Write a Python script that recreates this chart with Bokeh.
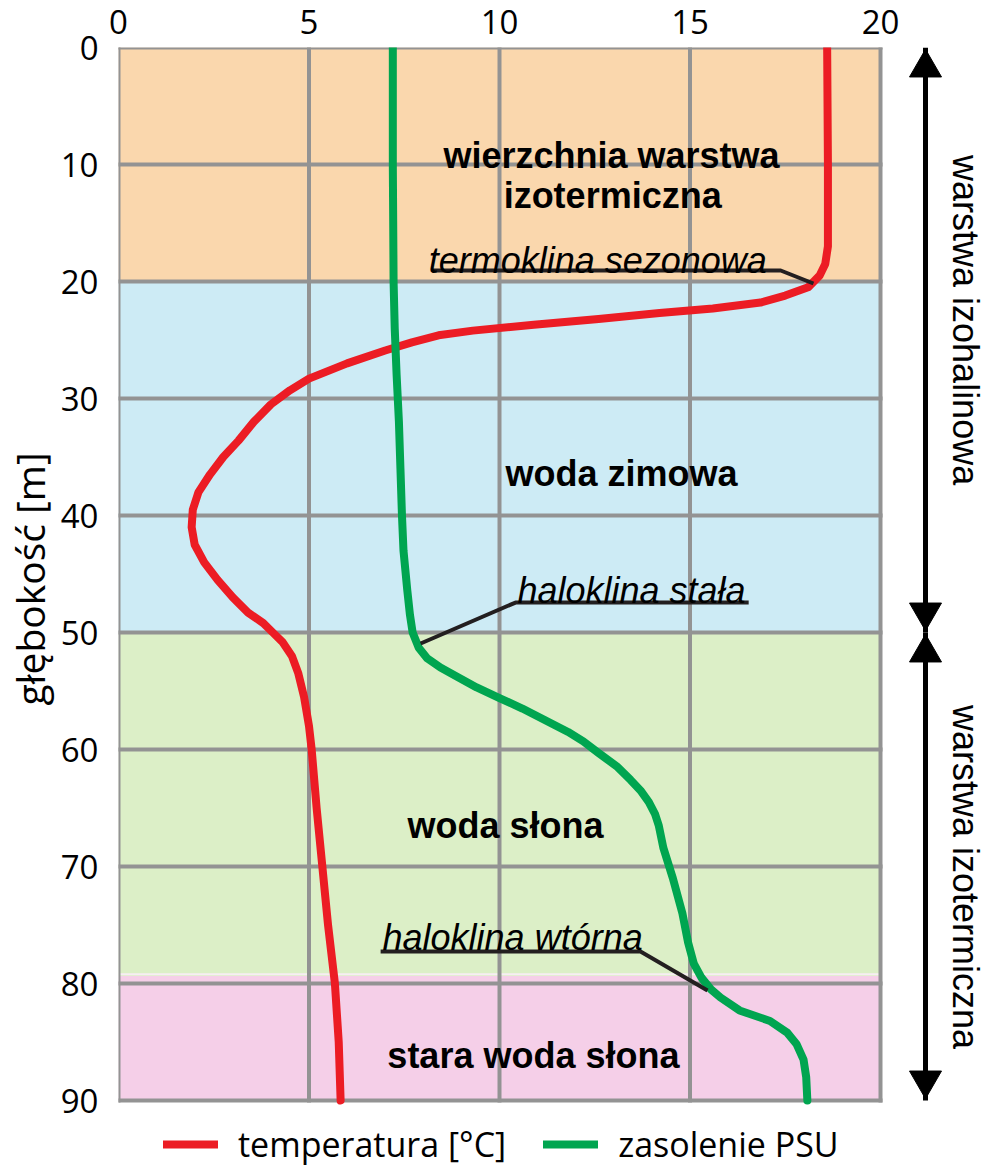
from bokeh.plotting import figure
from bokeh.models import Range1d, FixedTicker, Label, Legend, LegendItem, Title
from bokeh.core.properties import value
from bokeh.embed import file_html
from bokeh.resources import INLINE
import math

# ---------------- data ----------------
temp_depth = [0, 10, 17, 18.5, 19.5, 20.5, 21.2, 21.8, 22.3, 22.7, 23.2, 23.7, 24.2, 24.6, 25.2, 25.9,
              27.0, 28.3, 29.3, 30.5, 32.0, 33.6, 35.0, 36.5, 38.0, 39.5, 41.0, 42.5, 44.0, 45.5,
              47.0, 48.3, 49.2, 50.0, 50.8, 52.0, 53.5, 55.5, 58.0, 60, 65, 70, 75, 80, 85, 90]
temp_val = [18.6, 18.62, 18.62, 18.55, 18.4, 18.1, 17.5, 16.85, 15.6, 14.2, 12.6, 10.9, 9.3, 8.4, 7.7, 7.0,
            6.0, 5.0, 4.5, 4.0, 3.55, 3.15, 2.75, 2.4, 2.1, 1.95, 1.92, 2.0, 2.25, 2.6,
            3.0, 3.4, 3.8, 4.05, 4.3, 4.55, 4.72, 4.87, 5.0, 5.07, 5.2, 5.35, 5.5, 5.68, 5.78, 5.83]

sal_depth = [0, 10, 20, 24, 28, 32, 36, 40, 43, 46.4, 48.5, 50, 51.3, 52.2, 53, 53.8, 54.7, 55.6,
             56.5, 57.5, 58.5, 59.3, 60.3, 61.5, 62.6, 63.5, 64.5, 65.5, 66.5, 68.4, 71, 74, 76.5, 78.3,
             79.5, 80.5, 81.2, 82.3, 83.2, 84.2, 85.2, 86.5, 88, 90]
sal_val = [7.2, 7.2, 7.22, 7.25, 7.3, 7.36, 7.4, 7.44, 7.48, 7.58, 7.65, 7.72, 7.88, 8.1, 8.45, 8.9, 9.4, 10.0,
           10.6, 11.2, 11.8, 12.2, 12.6, 13.1, 13.44, 13.7, 13.92, 14.08, 14.18, 14.3, 14.55, 14.8, 14.95, 15.1,
           15.3, 15.55, 15.8, 16.3, 17.1, 17.55, 17.8, 17.98, 18.05, 18.08]

band_top = [0, 20, 50, 79.35]
band_bottom = [20, 50, 79.35, 90]
band_colors = ["#fad7ad", "#cdebf5", "#dcefc7", "#f5cfe8"]

x_ticks = [0, 5, 10, 15, 20]
y_ticks = [0, 10, 20, 30, 40, 50, 60, 70, 80, 90]

# layers marked on the right (depth ranges)
layer_names = ["warstwa izohalinowa", "warstwa izotermiczna"]
layer_top = [0, 50]
layer_bottom = [50, 90]
layer_label_depth = [23.3, 70.9]

# leader lines under the italic annotations (x, depth)
lead1_x = [8.24, 17.38, 18.24]
lead1_y = [19.06, 19.06, 20.17]
lead2_x = [16.54, 10.42, 7.93]
lead2_y = [47.44, 47.44, 50.94]
lead3_x = [6.88, 13.70, 15.46]
lead3_y = [77.26, 77.26, 80.6]

RED = "#ec1c24"
GREEN = "#00a550"
GRID = "#939393"

X0, X1 = 0, 20
Y0, Y1 = 0, 90
FRAME_L, FRAME_T, DATA_B = 118, 47, 1100
PX_PER_X = 762 / 20.0                   # pixel width of one x unit
PX_PER_Y = (DATA_B - FRAME_T) / 90.0    # pixel height of one depth unit
XR = (987 - FRAME_L) / PX_PER_X         # right margin kept in data space
YR = 90 + (1167 - DATA_B) / PX_PER_Y    # bottom margin (legend) kept in data space

p = figure(width=987, height=1167, x_range=Range1d(0, XR), y_range=Range1d(YR, 0),
           output_backend="svg", toolbar_location=None, x_axis_location="above",
           min_border_left=FRAME_L, min_border_right=0, min_border_top=FRAME_T,
           min_border_bottom=0)

p.background_fill_color = "white"
p.border_fill_color = "white"
p.outline_line_color = None
p.xgrid.visible = False
p.ygrid.visible = False

# bands
p.quad(left=X0, right=X1, top=band_top, bottom=band_bottom, fill_color=band_colors,
       line_color=None, level="image")
p.segment(x0=[X0], x1=[X1], y0=[79.2], y1=[79.2], line_color="#f7eef3", line_width=2, level="image")

# grid (drawn at the tick positions, bounded to the data area)
p.segment(x0=x_ticks, x1=x_ticks, y0=[Y0] * len(x_ticks), y1=[Y1] * len(x_ticks),
          line_color=GRID, line_width=4, line_cap="square", level="underlay")
p.segment(x0=[X0] * len(y_ticks), x1=[X1] * len(y_ticks), y0=y_ticks, y1=y_ticks,
          line_color=GRID, line_width=4, line_cap="square", level="underlay")

# axes
for ax in (p.xaxis, p.yaxis):
    ax.axis_line_color = None
    ax.major_tick_line_color = None
    ax.minor_tick_line_color = None
    ax.major_tick_out = 0
    ax.major_tick_in = 0
    ax.minor_tick_out = 0
    ax.minor_tick_in = 0
    ax.major_label_text_font = "Open Sans"
    ax.major_label_text_font_size = "33px"
    ax.major_label_text_color = "black"
p.xaxis.ticker = FixedTicker(ticks=x_ticks)
p.yaxis.ticker = FixedTicker(ticks=y_ticks)
p.xaxis.major_label_standoff = 14
p.yaxis.major_label_standoff = 20

# y-axis title placed along the 0-90 m data area (frame extends below it for the legend)
ytitle = Title(text="głębokość [m]", align="left", offset=1167 - 705, vertical_align="top",
               text_font="Open Sans", text_font_size="39px", text_font_style="normal",
               text_color="black", standoff=0)
p.add_layout(ytitle, "left")

# curves
r_t = p.line(temp_val, temp_depth, line_color=RED, line_width=8, line_join="round", line_cap="round")
r_s = p.line(sal_val, sal_depth, line_color=GREEN, line_width=8, line_join="round", line_cap="round")

# leader lines
for lx, ly in ((lead1_x, lead1_y), (lead2_x, lead2_y), (lead3_x, lead3_y)):
    p.line(lx, ly, line_color="#231f20", line_width=4)

def bold(text, x, y):
    p.add_layout(Label(x=x, y=y, text=text, text_font="Liberation Sans", text_font_style="bold",
                       text_font_size="36px", text_align="center", text_baseline="alphabetic",
                       text_color="black"))

def ital(text, x, y):
    p.add_layout(Label(x=x, y=y, text=text, text_font="Liberation Sans", text_font_style="italic",
                       text_font_size="36px", text_align="left", text_baseline="alphabetic",
                       text_color="black"))

bold("wierzchnia warstwa", 12.94, 9.23)
bold("izotermiczna", 12.97, 12.65)
bold("woda zimowa", 13.2, 36.4)
bold("woda słona", 10.16, 66.5)
bold("stara woda słona", 10.89, 86.15)
ital("termoklina sezonowa", 8.14, 18.2)
ital("haloklina stała", 10.47, 46.4)
ital("haloklina wtórna", 6.93, 76.07)

# right-side double arrows: shaft + triangle heads
arrow_x = (925 - FRAME_L) / PX_PER_X
text_x = (965 - FRAME_L) / PX_PER_X
HEAD = 32
tip_off = HEAD / 2 * math.sqrt(3) * 2 / 3 / PX_PER_Y   # triangle centre to tip, in depth units
p.segment(x0=[arrow_x] * 2, x1=[arrow_x] * 2, y0=layer_top, y1=layer_bottom,
          line_color="black", line_width=5)
p.scatter(x=[arrow_x] * 2, y=[t + tip_off + 0.15 for t in layer_top], marker="triangle",
          size=HEAD, fill_color="black", line_color="black", angle=0)
p.scatter(x=[arrow_x] * 2, y=[b - tip_off - 0.15 for b in layer_bottom], marker="triangle",
          size=HEAD, fill_color="black", line_color="black", angle=math.pi)
p.text(x=[text_x] * 2, y=layer_label_depth, text=layer_names, angle=-math.pi / 2,
       text_font=value("Liberation Sans"), text_font_size="36px", text_align="center",
       text_baseline="middle", text_color="black")

# legend (in the strip below the data area)
legend = Legend(items=[LegendItem(label="temperatura [°C]", renderers=[r_t]),
                       LegendItem(label="zasolenie PSU", renderers=[r_s])],
                orientation="horizontal", location=(45, 0))
legend.label_text_font = "Open Sans"
legend.label_text_font_size = "34px"
legend.label_text_color = "black"
legend.label_height = 40
legend.glyph_width = 55
legend.glyph_height = 40
legend.label_standoff = 20
legend.spacing = 37
legend.padding = 0
legend.margin = 0
legend.border_line_color = None
legend.background_fill_alpha = 0
p.add_layout(legend)

open("out.html", "w").write(file_html(p, INLINE))
